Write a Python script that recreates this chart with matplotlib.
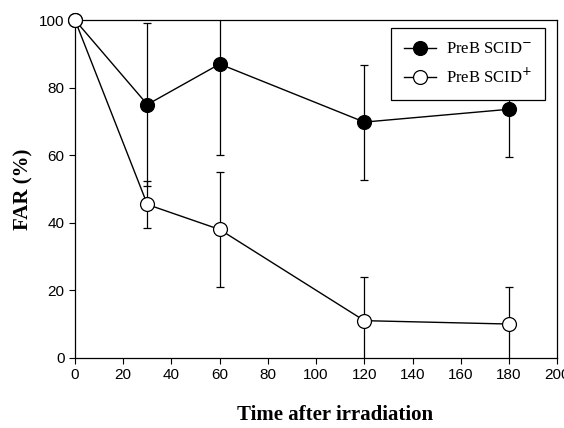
import matplotlib.pyplot as plt
from matplotlib.lines import Line2D

time_min = [0, 30, 60, 120, 180]
far_scid_minus = [100, 75, 87, 69.8, 73.6]
err_scid_minus = [0, 24, 27, 17, 14]
far_scid_plus = [100, 45.4, 38, 11, 10]
err_scid_plus = [0, 7, 17, 13, 11]

x_ticks = [0, 20, 40, 60, 80, 100, 120, 140, 160, 180, 200]
y_ticks = [0, 20, 40, 60, 80, 100]


def main() -> None:
    fig = plt.figure(figsize=(5.64, 4.28), dpi=100)
    ax = fig.add_axes([0.133, 0.164, 0.855, 0.789])

    style = dict(color="black", marker="o", markersize=10,
                 markeredgecolor="black", markeredgewidth=0.9, lw=1.0)
    err_style = dict(elinewidth=0.9, capsize=3, capthick=0.9)

    for far, err, face, z in [(far_scid_minus, err_scid_minus, "black", 3),
                              (far_scid_plus, err_scid_plus, "white", 4)]:
        cont = ax.errorbar(time_min, far, yerr=err, markerfacecolor=face,
                           zorder=z, **style, **err_style)
        cont.lines[0].set_clip_on(False)

    handles = [Line2D([], [], markerfacecolor="black", **style),
               Line2D([], [], markerfacecolor="white", **style)]
    labels = ["PreB SCID$^{\\mathsf{-}}$", "PreB SCID$^{+}$"]

    ax.set_xlim(0, 200)
    ax.set_ylim(0, 100)
    ax.set_xticks(x_ticks)
    ax.set_yticks(y_ticks)
    ax.tick_params(direction="out", length=4, width=0.8, labelsize=11)
    for lab in ax.get_xticklabels() + ax.get_yticklabels():
        lab.set_family("Liberation Sans")
    for sp in ax.spines.values():
        sp.set_linewidth(0.9)

    ax.set_xlabel("Time after irradiation", family="Liberation Serif",
                  fontweight="bold", fontsize=15)
    ax.xaxis.set_label_coords(0.54, -0.17, transform=ax.transAxes)
    ax.xaxis.label.set_verticalalignment("center")
    ax.set_ylabel("FAR (%)", family="Liberation Serif", fontweight="bold",
                  fontsize=15, labelpad=4)

    leg = ax.legend(handles, labels, loc="upper right",
                    bbox_to_anchor=(0.975, 0.976), borderaxespad=0,
                    prop={"family": "Liberation Serif", "size": 12},
                    frameon=True, fancybox=False, framealpha=1,
                    edgecolor="black", handlelength=1.9, handletextpad=0.6,
                    borderpad=0.8, labelspacing=0.6)
    leg.get_frame().set_linewidth(0.9)
    leg.set_zorder(10)

    fig.savefig("out.png", dpi=100)
    plt.close(fig)


if __name__ == "__main__":
    main()
